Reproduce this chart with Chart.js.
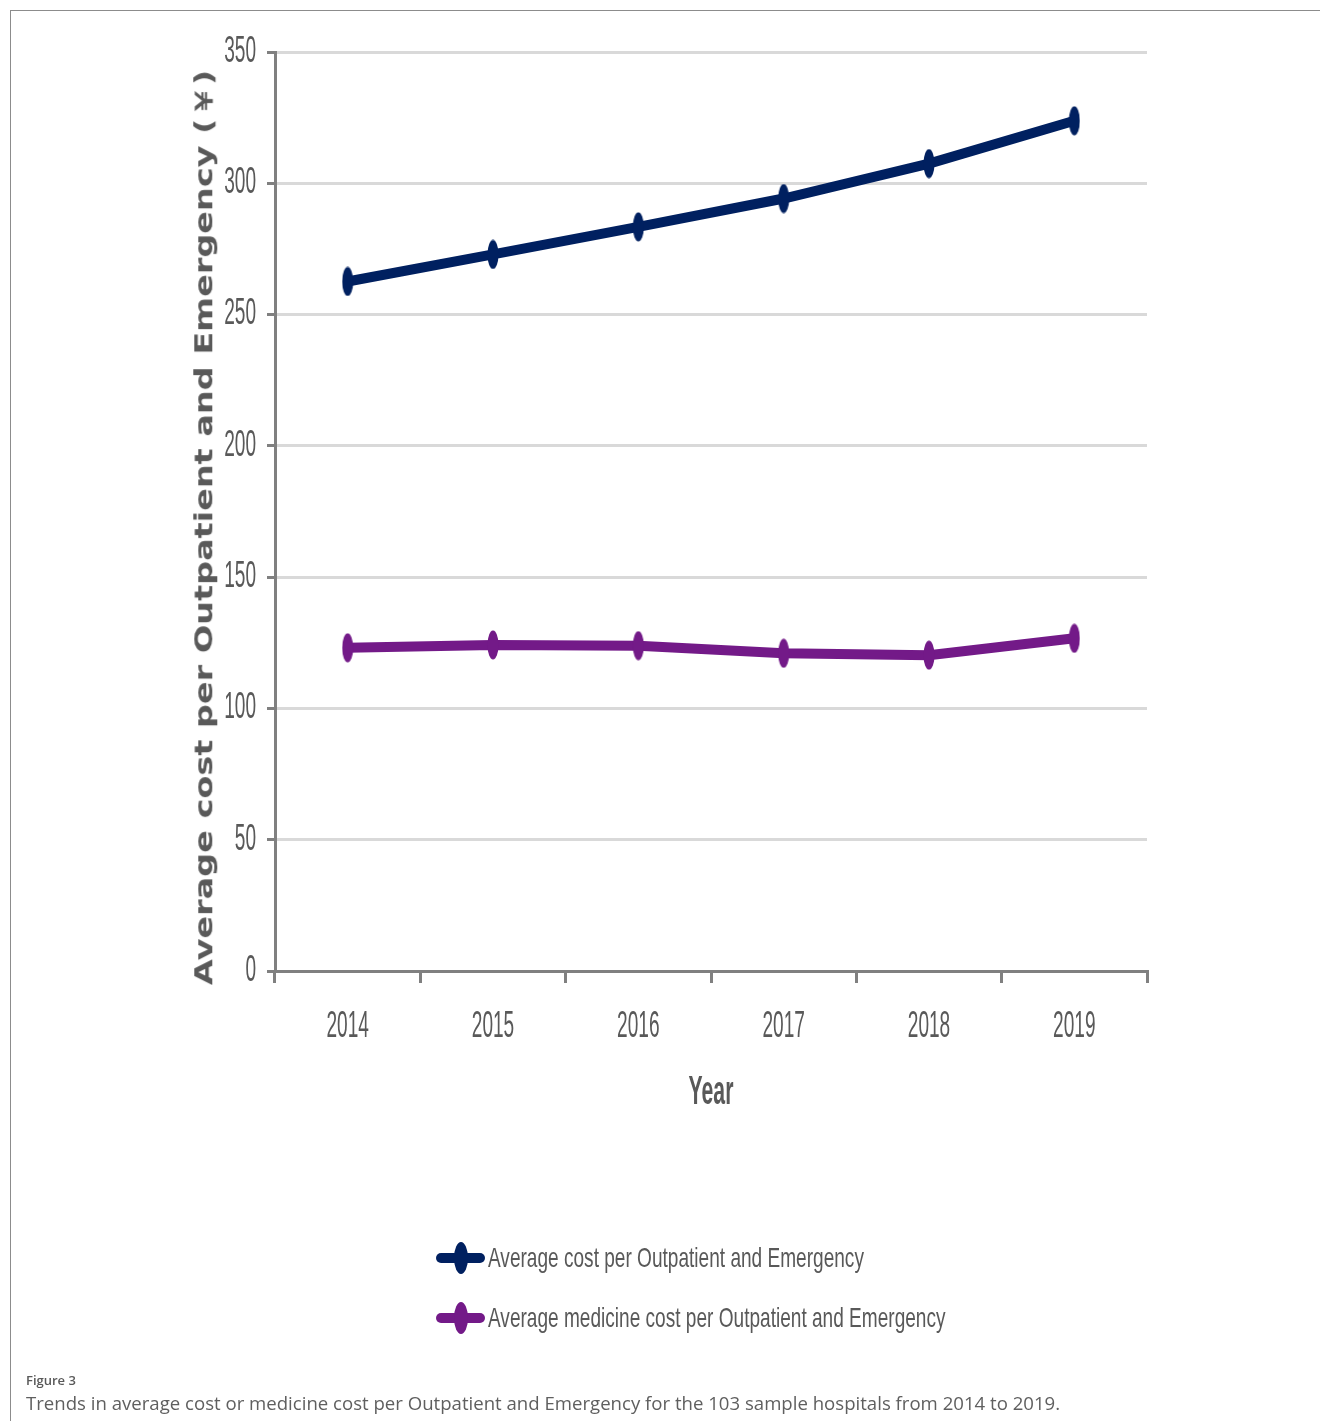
<!DOCTYPE html>
<html>
<head>
<meta charset="utf-8">
<title>Average cost per Outpatient and Emergency, 2014–2019</title>
<script src="https://cdn.jsdelivr.net/npm/chart.js@4.4.1/dist/chart.umd.min.js"></script>
<style>
  html, body { margin: 0; padding: 0; background: #ffffff; }
  body { width: 1320px; height: 1421px; position: relative; overflow: hidden; font-family: 'Open Sans', sans-serif; }
  #frame { position: absolute; left: 10px; top: 10px; width: 1320px; height: 1420px;
           border-top: 1px solid #8c8c8c; border-left: 1px solid #8c8c8c; box-sizing: border-box; }
  #chart { position: absolute; left: 0; top: 0; }
  #ytitle { position: absolute; left: 0; top: 0; white-space: nowrap; color: #595959;
            font: bold 25px 'DejaVu Sans', Verdana, sans-serif; line-height: 1; transform-origin: 50% 50%; }
  .legend-item { position: absolute; left: 436px; height: 34px; }
  .legend-bar { position: absolute; left: 0; top: 12px; width: 49px; height: 10px; border-radius: 5px; }
  .legend-dot { position: absolute; left: 18px; top: 1px; width: 14px; height: 32px; border-radius: 50%; }
  .legend-text { position: absolute; left: 52px; top: 0; white-space: nowrap; color: #595959;
                 font: 28px 'Liberation Sans', sans-serif;
                 line-height: 34px; transform-origin: 0 50%; }
  #fig { position: absolute; left: 26px; top: 1371px; font: 600 13px 'Open Sans', sans-serif; color: #595959; }
  #caption { position: absolute; left: 26px; top: 1390px; font: 18.6px 'Open Sans', sans-serif; color: #5f5f5f; white-space: nowrap; }
</style>
</head>
<body>
<div id="frame"></div>
<canvas id="chart" width="1320" height="1421"></canvas>
<div id="ytitle">Average cost per Outpatient and Emergency (￥)</div>
<div id="legend"></div>
<div id="fig">Figure 3</div>
<div id="caption">Trends in average cost or medicine cost per Outpatient and Emergency for the 103 sample hospitals from 2014 to 2019.</div>
<script>
// Years on the category axis
const years = ['2014', '2015', '2016', '2017', '2018', '2019'];
// Average cost per outpatient and emergency visit (¥)
const avgCost = [262.6, 272.9, 283.4, 294.2, 307.5, 323.8];
// Average medicine cost per outpatient and emergency visit (¥)
const avgMedicineCost = [123.1, 124.2, 123.9, 121.0, 120.3, 126.7];
// Value axis range
const yMin = 0, yMax = 350, yStep = 50;

const seriesNames = [
  'Average cost per Outpatient and Emergency',
  'Average medicine cost per Outpatient and Emergency'
];
const seriesColors = ['#002060', '#731a88'];

// Axis text is set in a tall, condensed style: squeeze every glyph run horizontally
// around its anchor point so alignment computed by the chart is preserved.
const TEXT_SQUEEZE = 0.53;
const canvas = document.getElementById('chart');
const ctx2d = canvas.getContext('2d');
const baseFillText = ctx2d.fillText.bind(ctx2d);
ctx2d.fillText = function (text, x, y, maxWidth) {
  this.save();
  this.translate(x, y);
  this.scale(TEXT_SQUEEZE, 1);
  if (maxWidth === undefined) baseFillText(text, 0, 0);
  else baseFillText(text, 0, 0, maxWidth / TEXT_SQUEEZE);
  this.restore();
};

// Tall elliptical marker drawn on a small canvas, used as the point style
function ellipseMarker(color) {
  const c = document.createElement('canvas');
  c.width = 12; c.height = 30;
  const g = c.getContext('2d');
  g.fillStyle = color;
  g.beginPath();
  g.ellipse(6, 15, 5.5, 14.5, 0, 0, Math.PI * 2);
  g.fill();
  return c;
}

const tickFont = { family: "'Liberation Sans', Arial, sans-serif", size: 36 };
const axisGray = '#808080';

const chart = new Chart(canvas, {
  type: 'line',
  data: {
    labels: years,
    datasets: [avgCost, avgMedicineCost].map((vals, i) => ({
      label: seriesNames[i],
      data: vals,
      borderColor: seriesColors[i],
      backgroundColor: seriesColors[i],
      borderWidth: 10,
      tension: 0,
      pointStyle: ellipseMarker(seriesColors[i]),
      pointRadius: 8,
      pointHoverRadius: 8,
      fill: false
    }))
  },
  options: {
    responsive: false,
    animation: false,
    events: [],
    layout: { padding: { left: 0, top: 52, right: 173, bottom: 304 } },
    plugins: { legend: { display: false }, tooltip: { enabled: false } },
    scales: {
      x: {
        type: 'category',
        offset: true,
        grid: { offset: true, drawOnChartArea: false, color: axisGray, lineWidth: 3, tickLength: 12 },
        border: { display: true, color: axisGray, width: 3 },
        ticks: { font: tickFont, color: '#595959', padding: 22, maxRotation: 0, autoSkip: false },
        title: {
          display: true, text: 'Year', color: '#595959', padding: 0,
          font: { family: "'Liberation Sans', Arial, sans-serif", size: 40, weight: 'bold' }
        },
        afterFit(scale) { scale.height = 146; }
      },
      y: {
        min: yMin, max: yMax,
        grid: { color: '#d9d9d9', lineWidth: 3, tickLength: 8, tickColor: axisGray },
        border: { display: true, color: axisGray, width: 3 },
        ticks: { stepSize: yStep, font: tickFont, color: '#595959', padding: 11 },
        afterFit(scale) { scale.width = 275; }
      }
    }
  }
});

// Rotated value-axis title, stretched along its length to run the height of the axis
(function () {
  const el = document.getElementById('ytitle');
  const target = 915;
  const r = el.getBoundingClientRect();
  const stretch = target / r.width;
  const cx = 204, cy = 527;
  el.style.left = (cx - r.width / 2) + 'px';
  el.style.top = (cy - r.height / 2) + 'px';
  el.style.transform = 'rotate(-90deg) scaleX(' + stretch.toFixed(3) + ')';
})();

// Legend built from the chart's datasets
(function () {
  const box = document.getElementById('legend');
  const rowCenters = [1258, 1318];
  const firstTextWidth = 376;
  let scaleX = null;
  chart.data.datasets.forEach((ds, i) => {
    const item = document.createElement('div');
    item.className = 'legend-item';
    item.style.top = (rowCenters[i] - 17) + 'px';
    const bar = document.createElement('div');
    bar.className = 'legend-bar';
    bar.style.background = ds.borderColor;
    const dot = document.createElement('div');
    dot.className = 'legend-dot';
    dot.style.background = ds.borderColor;
    const txt = document.createElement('div');
    txt.className = 'legend-text';
    txt.textContent = ds.label;
    item.append(bar, dot, txt);
    box.appendChild(item);
    if (scaleX === null) scaleX = firstTextWidth / txt.getBoundingClientRect().width;
    txt.style.transform = 'scaleX(' + scaleX.toFixed(3) + ')';
  });
})();
</script>
</body>
</html>
